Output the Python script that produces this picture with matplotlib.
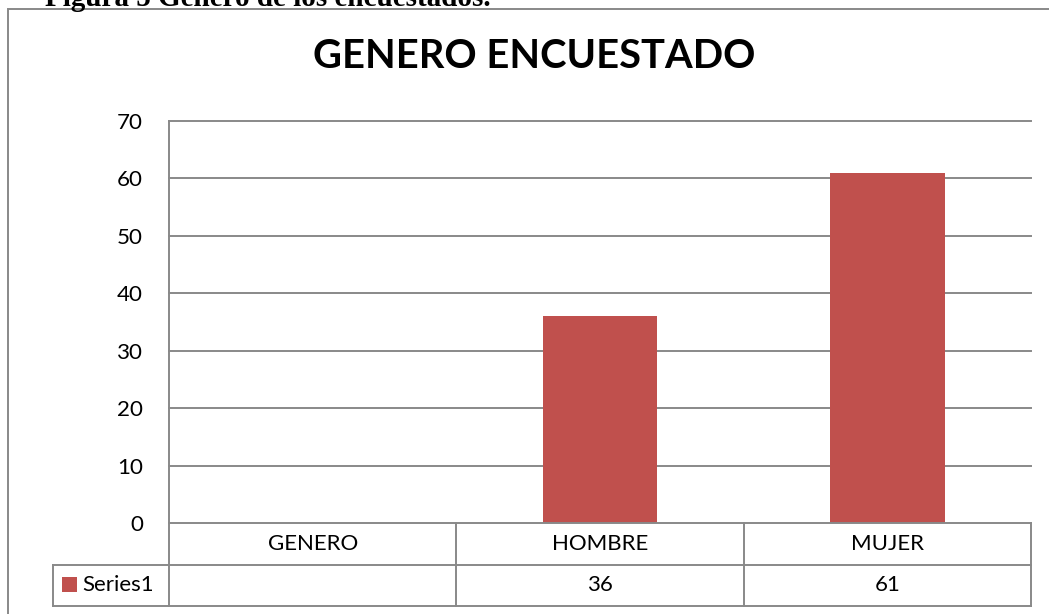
import matplotlib
matplotlib.use("Agg")
import matplotlib.pyplot as plt
from matplotlib.patches import Rectangle
import numpy as np

# ---- data ----
categories = ["GENERO", "HOMBRE", "MUJER"]
values = [None, 36, 61]
series_name = "Series1"
title_text = "GENERO ENCUESTADO"
caption_text = "Figura 5 Género de los encuestados."
y_ticks = [0, 10, 20, 30, 40, 50, 60, 70]

W, H = 1049, 614
BAR = "#C0504D"
GRID = "#898989"
FONT = "Lato"

fig = plt.figure(figsize=(W / 100, H / 100), dpi=100)
fig.patch.set_facecolor("white")
renderer = fig.canvas.get_renderer()


def fit_size(text, target_px, **kw):
    t = fig.text(0, 0, text, fontsize=10, **kw)
    w = t.get_window_extent(renderer).width
    t.remove()
    return 10 * target_px / w


L, R, T, B = 169, 1031, 121, 523
ax = fig.add_axes([L / W, 1 - B / H, (R - L) / W, (B - T) / H])
x = np.arange(len(categories))
bx = [i for i, v in zip(x, values) if v is not None]
bv = [v for v in values if v is not None]
ax.bar(bx, bv, width=0.4, color=BAR, zorder=3)
ax.set_xlim(-0.5, len(categories) - 0.5)
ax.set_ylim(y_ticks[0], y_ticks[-1])

for yv in y_ticks[1:]:
    ax.axhline(yv, color=GRID, lw=1.4, zorder=1, clip_on=False)

for s in ["top", "right", "bottom"]:
    ax.spines[s].set_visible(False)
ax.spines["left"].set_color(GRID)
ax.spines["left"].set_linewidth(1.4)
ax.set_xticks([])

fs = fit_size("GENERO", 90, family=FONT)
tfs_y = fit_size("40", 26, family=FONT)
ax.set_yticks(y_ticks)
ax.tick_params(axis="y", length=0, pad=(L - 143) * 0.72, labelsize=tfs_y)
for lab in ax.get_yticklabels():
    lab.set_family(FONT)

# ---- data table ----
ah = B - T
aw = R - L
r0 = 0.0
r1 = -(564.5 - B) / ah
r2 = -(606 - B) / ah
xs = (53 - L) / aw
lk = dict(color=GRID, lw=1.4, clip_on=False, zorder=5)
ax.plot([0, 1], [r0, r0], transform=ax.transAxes, **lk)
ax.plot([xs, 1], [r1, r1], transform=ax.transAxes, **lk)
ax.plot([xs, 1], [r2, r2], transform=ax.transAxes, **lk)
ax.plot([xs, xs], [r1, r2], transform=ax.transAxes, **lk)
ax.plot([0, 0], [r0, r2], transform=ax.transAxes, **lk)
ax.plot([1, 1], [r0, r2], transform=ax.transAxes, **lk)
xt = ax.get_xaxis_transform()
for b in np.arange(len(categories) - 1) + 0.5:
    ax.plot([b, b], [r0, r2], transform=xt, **lk)

for i, (c, v) in enumerate(zip(categories, values)):
    ax.text(i, (r0 + r1) / 2, c, transform=xt, ha="center", va="center",
            fontsize=fs, family=FONT, color="black")
    ax.text(i, (r1 + r2) / 2, "" if v is None else str(v), transform=xt,
            ha="center", va="center", fontsize=fs, family=FONT, color="black")

ycen = 1 - 585 / H
fig.patches.append(Rectangle((62 / W, 1 - 592 / H), 15 / W, 15 / H,
                             transform=fig.transFigure, facecolor=BAR,
                             edgecolor="none"))
fig.text(82 / W, ycen, series_name, ha="left", va="center", fontsize=fs,
         family=FONT)

# ---- title ----
tfs = fit_size(title_text, 442, family=FONT, fontweight="bold")
fig.text(534 / W, 1 - 56 / H, title_text, ha="center", va="center",
         fontsize=tfs, fontweight="bold", family=FONT)

# ---- outer border + caption ----
fig.patches.append(Rectangle((8 / W, -0.2), 1.5, 1.2 - 9.5 / H,
                             transform=fig.transFigure, facecolor="none",
                             edgecolor=GRID, lw=1.4))
cfs = fit_size(caption_text, 448, family="Liberation Serif", fontweight="bold")
fig.text(45 / W, 1 - 6 / H, caption_text, ha="left", va="baseline",
         fontsize=cfs, fontweight="bold", family="Liberation Serif")

fig.savefig("out.png", dpi=100)
